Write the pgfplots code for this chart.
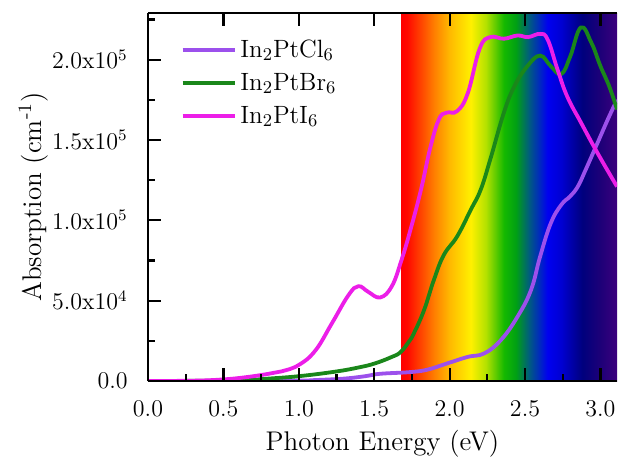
\documentclass[border=0pt]{standalone}
\usepackage{pgfplots}
\pgfplotsset{compat=1.18}
\definecolor{cPink}{RGB}{236,30,232}
\definecolor{cGreen}{RGB}{26,135,26}
\definecolor{cPurple}{RGB}{156,80,236}
\definecolor{sA}{RGB}{255,0,0}
\definecolor{sB}{RGB}{255,10,0}
\definecolor{sC}{RGB}{255,128,0}
\definecolor{sD}{RGB}{255,185,0}
\definecolor{sE}{RGB}{255,240,0}
\definecolor{sF}{RGB}{180,225,0}
\definecolor{sG}{RGB}{20,185,0}
\definecolor{sH}{RGB}{0,160,20}
\definecolor{sI}{RGB}{0,90,130}
\definecolor{sJ}{RGB}{0,0,240}
\definecolor{sK}{RGB}{0,0,210}
\definecolor{sL}{RGB}{0,0,125}
\definecolor{sM}{RGB}{30,0,120}
\definecolor{sN}{RGB}{60,0,125}
\pgfdeclarehorizontalshading{spectrum}{100bp}{color(0bp)=(sA); color(25bp)=(sA); color(26.4bp)=(sB); color(32.7bp)=(sC); color(36.2bp)=(sD); color(41.1bp)=(sE); color(44.6bp)=(sF); color(48.8bp)=(sG); color(51.6bp)=(sH); color(54.7bp)=(sI); color(58.9bp)=(sJ); color(62.1bp)=(sK); color(67bp)=(sL); color(71.2bp)=(sM); color(75bp)=(sN); color(100bp)=(sN)}
\begin{document}
\begin{tikzpicture}
\begin{axis}[
  scale only axis, width=234.5pt, height=184pt,
  xmin=0, xmax=3.11, ymin=0, ymax=22.9,
  axis x line*=bottom, axis y line*=left,
  axis on top,
  tick align=inside,
  axis line style={line width=1.2pt, black},
  every tick/.style={black, line width=1.1pt},
  major tick length=6.5pt, minor tick length=3.5pt,
  xtick={0,0.5,1,1.5,2,2.5,3},
  xticklabels={0.0,0.5,1.0,1.5,2.0,2.5,3.0},
  minor xtick={0.25,0.75,1.25,1.75,2.25,2.75},
  ytick={0,5,10,15,20},
  yticklabels={0.0,5.0x10$^4$,1.0x10$^5$,1.5x10$^5$,2.0x10$^5$},
  minor ytick={2.5,7.5,12.5,17.5,22.5},
  scaled y ticks=false,
  tick label style={font=\fontsize{12}{14}\selectfont, inner sep=0pt},
  yticklabel style={xshift=-10pt},
  xticklabel style={yshift=-9.5pt},
  xlabel={Photon Energy (eV)},
  ylabel={Absorption (cm\textsuperscript{-1})},
  label style={font=\fontsize{13.5}{16}\selectfont, inner sep=0pt},
  xlabel style={at={(axis description cs:0.5,-0.1875)}, anchor=base},
  ylabel style={at={(axis description cs:-0.277,0.5)}, anchor=north},
  legend style={draw=none, fill=none, at={(axis description cs:0.069,0.94)}, anchor=north west,
    font=\fontsize{12.5}{14}\selectfont, row sep=2.5pt, inner sep=0pt},
  legend cell align=left,
  legend image code/.code={\draw[#1, line width=1.8pt] (0pt,0pt) -- (26pt,0pt);},
  every axis plot/.append style={line width=1.9pt, smooth, tension=0.7},
]
\fill[shading=spectrum] (axis cs:1.68,0) rectangle (axis cs:3.11,22.9);
\coordinate (ll) at (rel axis cs:0,0);
\coordinate (ur) at (rel axis cs:1,1);
\addplot[cPurple] coordinates {
(0,0) (0.5,0.01) (1.0,0.03) (1.11,0.06) (1.3,0.15) (1.44,0.3) (1.54,0.45) (1.73,0.55) (1.85,0.7)
(1.985,1.1) (2.12,1.5) (2.23,1.72) (2.34,2.55) (2.45,4.0) (2.54,5.67) (2.60,7.74) (2.67,9.8)
(2.74,10.96) (2.80,11.5) (2.85,12.1) (2.90,13.1) (2.98,14.8) (3.05,16.3) (3.11,17.5)
};
\addlegendentry{In$_2$PtCl$_6$}
\addplot[cGreen] coordinates {
(0,0) (0.5,0.02) (0.66,0.06) (0.8,0.15) (1.0,0.3) (1.24,0.58) (1.4,0.85) (1.506,1.1) (1.617,1.5)
(1.675,1.8) (1.73,2.45) (1.763,2.97) (1.83,4.4) (1.896,6.3) (1.962,7.85) (2.05,9.0) (2.14,10.65)
(2.206,11.9) (2.27,13.8) (2.36,16.7) (2.43,18.35) (2.516,19.6) (2.60,20.25) (2.67,19.6) (2.74,19.1)
(2.80,20.2) (2.87,22.0) (2.94,21.05) (3.0,19.6) (3.06,18.3) (3.11,16.9)
};
\addlegendentry{In$_2$PtBr$_6$}
\addplot[cPink] coordinates {
(0,0) (0.3,0.02) (0.5,0.1) (0.66,0.25) (0.8,0.45) (0.886,0.6) (1.0,1.0) (1.11,1.9) (1.22,3.6)
(1.33,5.35) (1.395,5.9) (1.46,5.55) (1.54,5.2) (1.617,5.9) (1.68,7.5) (1.74,9.4) (1.81,11.9)
(1.874,14.6) (1.93,16.3) (1.98,16.7) (2.05,16.8) (2.12,17.9) (2.2,20.7) (2.27,21.4) (2.36,21.3)
(2.45,21.5) (2.52,21.4) (2.60,21.6) (2.65,21.25) (2.715,19.4) (2.78,17.7) (2.87,16.1) (2.98,14.2) (3.11,12.1)
};
\addlegendentry{In$_2$PtI$_6$}
\end{axis}
\begin{axis}[
  scale only axis, width=234.5pt, height=184pt,
  xmin=0, xmax=3.11, ymin=0, ymax=22.9,
  axis x line*=top, axis y line=none,
  tick align=inside,
  axis line style={line width=1.2pt, black},
  every tick/.style={black, line width=1.1pt},
  major tick length=6.5pt,
  xtick={0,0.5,1,1.5,2,2.5,3}, xticklabels={}, minor xtick={},
  ytick=\empty,
]
\addplot[draw=none] coordinates {(0,0)};
\end{axis}
\pgfresetboundingbox
\path[use as bounding box] ([shift={(-74pt,-38pt)}]ll) rectangle ([shift={(1pt,6.5pt)}]ur);
\end{tikzpicture}
\end{document}
